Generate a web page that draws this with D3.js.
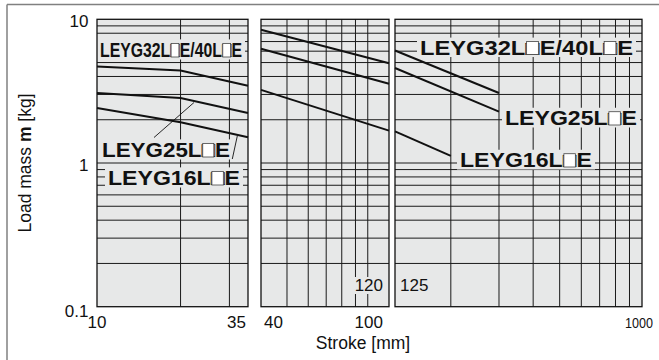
<!DOCTYPE html>
<html><head><meta charset="utf-8">
<script src="https://cdn.jsdelivr.net/npm/d3@7"></script>
<style>body{margin:0;background:#fff} svg{display:block}</style>
</head><body><svg id="c" width="659" height="360"></svg>
<script>
// ---------- data ----------
const panelDomains = [[10, 35], [40, 120], [125, 1000]];
const panelGridX = [[20, 30], [50, 60, 70, 80, 90, 100], [200, 300, 400, 500, 600, 700, 800, 900]];
const yDomain = [0.1, 10];
const yGrid = [0.2, 0.3, 0.4, 0.5, 0.6, 0.7, 0.8, 0.9, 1, 2, 3, 4, 5, 6, 7, 8, 9];
const yTickValues = [10, 1, 0.1];
const yTickLabels = ["10", "1", "0.1"];
const xTickValues = [10, 35, 40, 100, 1000];
const xTickLabels = ["10", "35", "40", "100", "1000"];
const seriesNames = ["LEYG32L□E/40L□E", "LEYG25L□E", "LEYG16L□E"];
// panel 1 (stroke 10–35)
const p1Stroke = [10, 20, 35];
const p1Mass32 = [4.7, 4.4, 3.45];
const p1Mass25 = [3.07, 2.83, 2.23];
const p1Mass16 = [2.41, 1.92, 1.51];
// panel 2 (stroke 40–120)
const p2Stroke = [40, 120];
const p2Mass32 = [8.45, 4.95];
const p2Mass25 = [6.24, 3.56];
const p2Mass16 = [3.23, 1.68];
// panel 3 (stroke 125–1000)
const p3Stroke32 = [125, 300];
const p3Mass32 = [6.07, 3.07];
const p3Stroke25 = [125, 300];
const p3Mass25 = [4.58, 2.28];
const p3Stroke16 = [125, 200];
const p3Mass16 = [1.66, 1.12];

// ---------- layout ----------
const svg = d3.select("#c");
const FONT = "'Liberation Sans', Arial, Helvetica, sans-serif";
const panelRanges = [[97, 248], [261, 389], [395, 642]];
const y = d3.scaleLog().domain(yDomain).range([306.7, 19.3]);
const xs = panelDomains.map((d, i) => d3.scaleLog().domain(d).range(panelRanges[i]));
const BG = "#e7e8e8";

// outer frame
svg.append("line").attr("x1", 7).attr("x2", 659).attr("y1", 4.5).attr("y2", 4.5)
  .attr("stroke", "#808080").attr("stroke-width", 1.5);
svg.append("line").attr("x1", 7).attr("x2", 7).attr("y1", 4.5).attr("y2", 360)
  .attr("stroke", "#808080").attr("stroke-width", 1.5);

const panels = [
  { x: xs[0], series: [[p1Stroke, p1Mass32], [p1Stroke, p1Mass25], [p1Stroke, p1Mass16]] },
  { x: xs[1], series: [[p2Stroke, p2Mass32], [p2Stroke, p2Mass25], [p2Stroke, p2Mass16]] },
  { x: xs[2], series: [[p3Stroke32, p3Mass32], [p3Stroke25, p3Mass25], [p3Stroke16, p3Mass16]] },
];

const gridLayer = svg.append("g");
const boxLayer = svg.append("g");
const lineLayer = svg.append("g");
const textLayer = svg.append("g");

panels.forEach((p, i) => {
  const [x0, x1] = p.x.range();
  const g = gridLayer.append("g");
  g.append("rect").attr("x", x0).attr("y", y(10)).attr("width", x1 - x0).attr("height", y(0.1) - y(10))
    .attr("fill", BG);
  g.selectAll("line.h").data(yGrid).join("line")
    .attr("x1", x0).attr("x2", x1).attr("y1", d => y(d)).attr("y2", d => y(d))
    .attr("stroke", "#1a1a1a").attr("stroke-width", 1);
  g.selectAll("line.v").data(panelGridX[i]).join("line")
    .attr("x1", d => p.x(d)).attr("x2", d => p.x(d)).attr("y1", y(10)).attr("y2", y(0.1))
    .attr("stroke", "#1a1a1a").attr("stroke-width", 1);
  lineLayer.append("rect").attr("x", x0).attr("y", y(10)).attr("width", x1 - x0).attr("height", y(0.1) - y(10))
    .attr("fill", "none").attr("stroke", "#111").attr("stroke-width", 1.3);
  const line = d3.line().x(d => p.x(d[0])).y(d => y(d[1]));
  p.series.forEach(([xv, yv]) => {
    lineLayer.append("path").datum(xv.map((v, k) => [v, yv[k]])).attr("d", line)
      .attr("fill", "none").attr("stroke", "#111").attr("stroke-width", 2);
  });
});

// leader lines (panel 1)
lineLayer.append("line").attr("x1", 154).attr("y1", 137.5).attr("x2", 194).attr("y2", 102.5)
  .attr("stroke", "#111").attr("stroke-width", 0.9);
lineLayer.append("line").attr("x1", 232.3).attr("y1", 159).attr("x2", 237.3).attr("y2", 136)
  .attr("stroke", "#111").attr("stroke-width", 0.9);

// series labels with background boxes
const labels = [
  { s: 0, x: 100, base: 57, w: 142, fs: 21 },
  { s: 1, x: 102, base: 157, w: 128, fs: 21 },
  { s: 2, x: 108, base: 185, w: 132, fs: 21 },
  { s: 0, x: 420, base: 54.5, w: 213, fs: 20 },
  { s: 1, x: 505, base: 125, w: 132, fs: 20.5 },
  { s: 2, x: 460, base: 167, w: 132, fs: 20.5 },
];
labels.forEach(l => {
  const cap = l.fs * 0.72;
  boxLayer.append("rect").attr("x", l.x - 3).attr("y", l.base - cap - 2.5)
    .attr("width", l.w + 6).attr("height", cap + 5).attr("fill", BG);
  const gt = textLayer.append("g");
  const t = gt.append("text").attr("x", l.x).attr("y", l.base)
    .attr("font-family", FONT).attr("font-weight", "bold").attr("font-size", l.fs)
    .attr("fill", "#111").attr("textLength", l.w).attr("lengthAdjust", "spacingAndGlyphs")
    .text(seriesNames[l.s]);
  // white open square drawn over the □ glyphs
  const str = seriesNames[l.s];
  const node = t.node();
  for (let k = 0; k < str.length; k++) {
    if (str[k] === "□") {
      try {
        const e = node.getExtentOfChar(k);
        const h = cap * 0.9;
        const w = Math.min(e.width * 0.82, h);
        gt.append("rect").attr("x", e.x + e.width / 2 - w / 2).attr("y", l.base - h)
          .attr("width", w).attr("height", h).attr("fill", "#fff")
          .attr("stroke", "#444").attr("stroke-width", 0.8);
      } catch (err) {}
    }
  }
});

// inner tick labels (120, 125)
const innerTicks = [
  { t: "120", x: 383, anchor: "end" },
  { t: "125", x: 400, anchor: "start" },
];
innerTicks.forEach(d => {
  const tx = textLayer.append("text").attr("x", d.x).attr("y", 291).attr("text-anchor", d.anchor)
    .attr("font-family", FONT).attr("font-size", 17).attr("fill", "#111").text(d.t);
  const bb = tx.node().getBBox();
  boxLayer.append("rect").attr("x", bb.x - 1).attr("y", bb.y + 1).attr("width", bb.width + 2).attr("height", bb.height - 2)
    .attr("fill", BG);
});

// y tick labels
yTickValues.forEach((v, i) => {
  textLayer.append("text").attr("x", 88.5).attr("y", y(v) + (v === 0.1 ? 10 : 8))
    .attr("text-anchor", "end").attr("font-family", FONT).attr("font-size", 17).attr("fill", "#111")
    .text(yTickLabels[i]);
});

// x tick labels
const xTickPanel = [0, 0, 1, 1, 2];
const xTickAnchor = ["middle", "end", "start", "middle", "middle"];
const xTickShift = [0, -2, 3, 1, -3];
xTickValues.forEach((v, i) => {
  const t = textLayer.append("text").attr("x", xs[xTickPanel[i]](v) + xTickShift[i]).attr("y", 328)
    .attr("text-anchor", xTickAnchor[i]).attr("font-family", FONT).attr("font-size", 17).attr("fill", "#111")
    .text(xTickLabels[i]);
  if (xTickLabels[i] === "1000") t.attr("font-size", 14).attr("textLength", 28).attr("lengthAdjust", "spacingAndGlyphs");
});

// axis titles
textLayer.append("text").attr("x", 363).attr("y", 349).attr("text-anchor", "middle")
  .attr("font-family", FONT).attr("font-size", 17.5).attr("fill", "#111").text("Stroke [mm]");
const yt = textLayer.append("text").attr("transform", "translate(31,163) rotate(-90)").attr("text-anchor", "middle")
  .attr("font-family", FONT).attr("font-size", 17.5).attr("fill", "#111");
yt.append("tspan").text("Load mass ");
yt.append("tspan").attr("font-weight", "bold").text("m");
yt.append("tspan").text(" [kg]");
</script></body></html>
